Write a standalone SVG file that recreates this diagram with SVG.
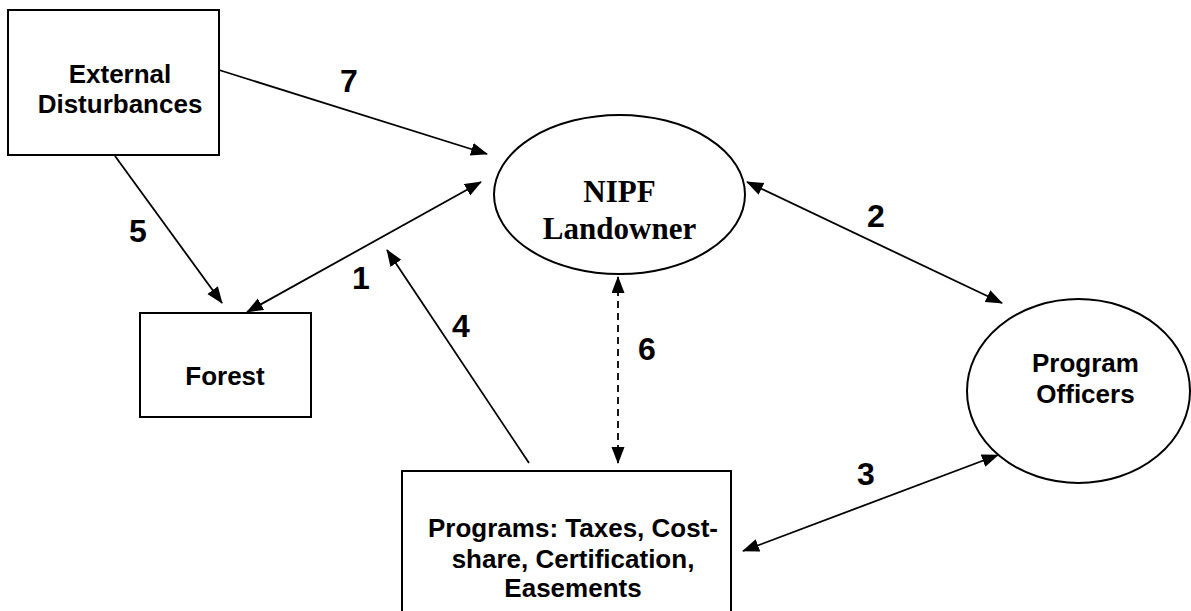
<svg xmlns="http://www.w3.org/2000/svg" width="1191" height="611" viewBox="0 0 1191 611">
<style>
.box{fill:#fff;stroke:#000;stroke-width:2}
.ell{fill:#fff;stroke:#000;stroke-width:2}
.t{font-family:"Liberation Sans",Arial,sans-serif;font-weight:bold;font-size:26px;text-anchor:middle;fill:#000}
.ts{font-family:"Liberation Serif","Times New Roman",serif;font-weight:bold;font-size:31px;text-anchor:middle;fill:#000}
.n{font-family:"Liberation Sans",Arial,sans-serif;font-weight:bold;font-size:32px;text-anchor:middle;fill:#000}
.c{stroke:#000;stroke-width:1.8;fill:none;marker-end:url(#ah)}
.d{marker-start:url(#ah)}
.dash{stroke-dasharray:7,5}
</style>
<defs>
<marker id="ah" markerUnits="userSpaceOnUse" markerWidth="18" markerHeight="14" refX="16" refY="6.5" orient="auto-start-reverse" viewBox="0 0 18 14">
<path d="M0,0 L17,6.5 L0,13 z" fill="#000"/>
</marker>
</defs>
<rect width="1191" height="611" fill="#fff"/>
<g id="external">
<rect class="box" x="8" y="10" width="211" height="145"/>
<text class="t" x="120" y="83">External</text>
<text class="t" x="120" y="113">Disturbances</text>
</g>
<g id="forest">
<rect class="box" x="140" y="313" width="171" height="104"/>
<text class="t" x="225" y="385">Forest</text>
</g>
<g id="nipf">
<ellipse class="ell" cx="619.5" cy="194.5" rx="125.5" ry="79.5"/>
<text class="ts" x="619.5" y="202">NIPF</text>
<text class="ts" x="619.5" y="239">Landowner</text>
</g>
<g id="officers">
<ellipse class="ell" cx="1078.5" cy="391" rx="111.5" ry="92"/>
<text class="t" x="1085.5" y="372">Program</text>
<text class="t" x="1085.5" y="403">Officers</text>
</g>
<g id="programs">
<rect class="box" x="402" y="471" width="329" height="150"/>
<text class="t" x="573" y="537">Programs: Taxes, Cost-</text>
<text class="t" x="573" y="568">share, Certification,</text>
<text class="t" x="573" y="597">Easements</text>
</g>
<g id="connectors">
<line class="c" x1="219" y1="70" x2="487" y2="154"/>
<line class="c" x1="115" y1="156" x2="222" y2="303"/>
<line class="c d" x1="481" y1="182" x2="247" y2="312"/>
<line class="c" x1="529" y1="463" x2="387" y2="250"/>
<line class="c d" x1="747" y1="182" x2="1002" y2="303"/>
<line class="c d" x1="998" y1="455" x2="743" y2="551"/>
<line class="c d dash" x1="618" y1="277" x2="618" y2="463"/>
</g>
<g id="labels">
<text class="n" x="349" y="92">7</text>
<text class="n" x="138" y="242">5</text>
<text class="n" x="361" y="289">1</text>
<text class="n" x="461" y="337">4</text>
<text class="n" x="647" y="360">6</text>
<text class="n" x="876" y="227">2</text>
<text class="n" x="866" y="485">3</text>
</g>
</svg>
